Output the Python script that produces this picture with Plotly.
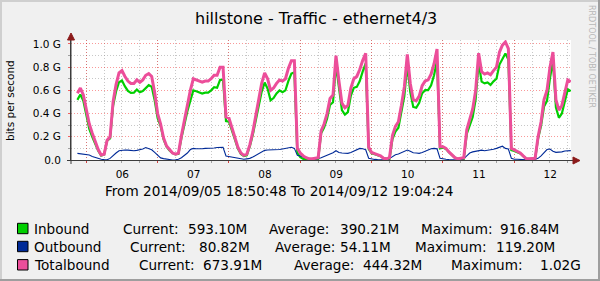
import plotly.graph_objects as go
import pandas as pd

# ---------------- data ----------------
TITLE = "hillstone - Traffic - ethernet4/3"
Y_TITLE = "bits per second"
WATERMARK = "RRDTOOL / TOBI OETIKER"
PERIOD_TEXT = "From 2014/09/05 18:50:48 To 2014/09/12 19:04:24"
RANGE_START = "2014-09-05 18:50:48"
RANGE_END = "2014-09-12 19:04:24"
SAMPLE_START = "2014-09-05 21:00:00"   # hourly samples, values in Gbit/s

totalbound = [
    0.575, 0.62, 0.56,
    0.42, 0.31, 0.23, 0.16, 0.09, 0.043, 0.05, 0.17, 0.20, 0.50, 0.65, 0.75, 0.77, 0.72, 0.68, 0.66, 0.66, 0.69, 0.67, 0.69, 0.73, 0.745, 0.72, 0.58,
    0.40, 0.31, 0.19, 0.12, 0.085, 0.06, 0.05, 0.06, 0.21, 0.35, 0.48, 0.60, 0.70, 0.69, 0.68, 0.67, 0.68, 0.68, 0.70, 0.73, 0.73, 0.80, 0.80, 0.37,
    0.36, 0.28, 0.19, 0.11, 0.06, 0.04, 0.05, 0.13, 0.24, 0.37, 0.51, 0.66, 0.75, 0.70, 0.60, 0.62, 0.66, 0.69, 0.68, 0.70, 0.79, 0.855, 0.855, 0.10,
    0.06, 0.035, 0.02, 0.01, 0.01, 0.012, 0.02, 0.25, 0.31, 0.40, 0.53, 0.56, 0.90, 0.68, 0.49, 0.45, 0.47, 0.62, 0.70, 0.72, 0.78, 0.86, 0.92, 0.11,
    0.065, 0.055, 0.045, 0.035, 0.015, 0.01, 0.02, 0.21, 0.29, 0.33, 0.47, 0.63, 0.91, 0.66, 0.52, 0.51, 0.55, 0.64, 0.68, 0.69, 0.74, 0.83, 0.955, 0.115,
    0.115, 0.10, 0.07, 0.045, 0.02, 0.01, 0.012, 0.02, 0.26, 0.35, 0.44, 0.60, 0.92, 0.76, 0.74, 0.75, 0.735, 0.77, 0.80, 0.93, 0.99, 1.017, 0.96, 0.10,
    0.085, 0.07, 0.06, 0.035, 0.012, 0.01, 0.01, 0.015, 0.20, 0.33, 0.52, 0.60, 0.80, 0.93, 0.52, 0.43, 0.47, 0.59, 0.69, 0.674,
]
outbound = [
    0.057, 0.055, 0.05,
    0.046, 0.043, 0.03, 0.02, 0.01, 0.006, 0.003, 0.002, 0.014, 0.033, 0.06, 0.08, 0.086, 0.086, 0.085, 0.082, 0.08, 0.083, 0.086, 0.095, 0.107, 0.10, 0.088, 0.065,
    0.04, 0.018, 0.012, 0.006, 0.003, 0.0, 0.002, 0.006, 0.02, 0.04, 0.06, 0.09, 0.10, 0.097, 0.095, 0.097, 0.10, 0.10, 0.10, 0.103, 0.108, 0.11, 0.11, 0.035,
    0.03, 0.025, 0.018, 0.012, 0.008, 0.006, 0.01, 0.014, 0.025, 0.04, 0.05, 0.07, 0.083, 0.086, 0.086, 0.086, 0.086, 0.09, 0.095, 0.10, 0.108, 0.11, 0.10, 0.04,
    0.035, 0.025, 0.014, 0.006, 0.006, 0.008, 0.012, 0.02, 0.03, 0.045, 0.055, 0.063, 0.08, 0.065, 0.06, 0.058, 0.057, 0.065, 0.078, 0.09, 0.10, 0.097, 0.088, 0.015,
    0.007, 0.005, 0.003, 0.002, 0.0, 0.0, 0.012, 0.03, 0.045, 0.052, 0.065, 0.08, 0.086, 0.075, 0.063, 0.06, 0.057, 0.065, 0.078, 0.088, 0.097, 0.10, 0.096, 0.015,
    0.008, 0.006, 0.004, 0.002, 0.0, 0.0, 0.004, 0.01, 0.035, 0.06, 0.07, 0.076, 0.08, 0.085, 0.08, 0.082, 0.088, 0.092, 0.10, 0.108, 0.119, 0.10, 0.095, 0.015,
    0.007, 0.006, 0.004, 0.003, 0.002, 0.0, 0.0, 0.006, 0.014, 0.035, 0.06, 0.09, 0.095, 0.075, 0.066, 0.066, 0.07, 0.078, 0.08, 0.081,
]
inbound = [
    0.518, 0.565, 0.51,
    0.374, 0.267, 0.20, 0.14, 0.08, 0.037, 0.047, 0.168, 0.186, 0.467, 0.59, 0.67, 0.684, 0.634, 0.595, 0.578, 0.58, 0.607, 0.584, 0.595, 0.623, 0.645, 0.632, 0.515,
    0.36, 0.292, 0.178, 0.114, 0.082, 0.06, 0.048, 0.054, 0.19, 0.31, 0.42, 0.51, 0.60, 0.593, 0.585, 0.573, 0.58, 0.58, 0.60, 0.627, 0.622, 0.69, 0.69, 0.335,
    0.33, 0.255, 0.172, 0.098, 0.052, 0.034, 0.04, 0.116, 0.215, 0.33, 0.46, 0.59, 0.667, 0.614, 0.514, 0.534, 0.574, 0.60, 0.585, 0.60, 0.682, 0.745, 0.755, 0.06,
    0.025, 0.01, 0.006, 0.004, 0.004, 0.004, 0.008, 0.23, 0.28, 0.355, 0.475, 0.497, 0.82, 0.615, 0.43, 0.392, 0.413, 0.555, 0.622, 0.63, 0.68, 0.763, 0.832, 0.095,
    0.058, 0.05, 0.042, 0.033, 0.015, 0.01, 0.008, 0.18, 0.245, 0.278, 0.405, 0.55, 0.824, 0.585, 0.457, 0.45, 0.493, 0.575, 0.602, 0.602, 0.643, 0.73, 0.859, 0.10,
    0.107, 0.094, 0.066, 0.043, 0.02, 0.01, 0.008, 0.01, 0.225, 0.29, 0.37, 0.524, 0.84, 0.675, 0.66, 0.668, 0.647, 0.678, 0.70, 0.822, 0.871, 0.917, 0.865, 0.085,
    0.078, 0.064, 0.056, 0.032, 0.01, 0.01, 0.01, 0.009, 0.186, 0.295, 0.46, 0.51, 0.705, 0.855, 0.454, 0.364, 0.40, 0.512, 0.61, 0.593,
]

series_names = ["Inbound", "Outbound", "Totalbound"]
series_colors = ["#00CF00", "#002A97", "#EC4E9A"]
current_vals = ["593.10M", "80.82M", "673.91M"]
average_vals = ["390.21M", "54.11M", "444.32M"]
maximum_vals = ["916.84M", "119.20M", "1.02G"]

day_ticks = ["2014-09-06", "2014-09-07", "2014-09-08", "2014-09-09",
             "2014-09-10", "2014-09-11", "2014-09-12"]
day_labels = ["06", "07", "08", "09", "10", "11", "12"]
y_ticks = [0.0, 0.2, 0.4, 0.6, 0.8, 1.0]
y_labels = ["0.0", "0.2 G", "0.4 G", "0.6 G", "0.8 G", "1.0 G"]
y_minor = [0.1, 0.3, 0.5, 0.7, 0.9]

# ---------------- layout geometry (pixels) ----------------
W, H = 600, 281
L, R, T, B = 71, 29, 40, 121
PW, PH = W - L - R, H - T - B
FONT = "DejaVu Sans"
BG = "#F0F0F0"
MGRID = "rgba(240,0,0,0.40)"
GRID = "rgba(143,143,143,0.50)"
AXIS = "#3C3C3C"
ARROW = "#8B1A1A"
LEGEND_SIZE = 13.6


def px(x):
    return (x - L) / PW


def py(y):
    return (T + PH - y) / PH


times = pd.date_range(SAMPLE_START, periods=len(totalbound), freq="h")
minor_times = pd.date_range("2014-09-05 18:00", "2014-09-12 18:00", freq="6h")

fig = go.Figure()
fig.add_trace(go.Scatter(x=times, y=inbound, mode="lines", name=series_names[0],
                         line=dict(color=series_colors[0], width=2.2)))
fig.add_trace(go.Scatter(x=times, y=outbound, mode="lines", name=series_names[1],
                         line=dict(color=series_colors[1], width=1.1)))
fig.add_trace(go.Scatter(x=times, y=totalbound, mode="lines", name=series_names[2],
                         line=dict(color=series_colors[2], width=3)))

fig.update_layout(
    width=W, height=H,
    margin=dict(l=L, r=R, t=T, b=B, pad=0),
    paper_bgcolor=BG, plot_bgcolor="#FFFFFF",
    showlegend=False,
    font=dict(family=FONT, size=10.5, color="#000000"),
    xaxis=dict(
        type="date", range=[RANGE_START, RANGE_END],
        tickmode="array", tickvals=day_ticks, ticktext=day_labels,
        ticklabelshift=36, ticks="outside", ticklen=2, tickcolor="rgba(240,0,0,0.6)",
        showgrid=True, gridcolor=MGRID, griddash="1px,2px", gridwidth=1,
        minor=dict(tickmode="array", tickvals=list(minor_times), showgrid=True,
                   gridcolor=GRID, griddash="1px,2px", gridwidth=1,
                   ticks="outside", ticklen=2, tickcolor="#A0A0A0"),
        showline=True, linecolor=AXIS, linewidth=1,
        zeroline=False, tickfont=dict(size=10.5), ticklabelstandoff=2,
    ),
    yaxis=dict(
        range=[0, 1.034], tickmode="array", tickvals=y_ticks, ticktext=y_labels,
        ticks="outside", ticklen=2, tickcolor="rgba(240,0,0,0.6)",
        showgrid=True, gridcolor=MGRID, griddash="1px,2px", gridwidth=1,
        minor=dict(tickmode="array", tickvals=y_minor, showgrid=True,
                   gridcolor=GRID, griddash="1px,2px", gridwidth=1,
                   ticks="outside", ticklen=2, tickcolor="#A0A0A0"),
        showline=True, linecolor=AXIS, linewidth=1,
        zeroline=False, tickfont=dict(size=10.5), ticklabelstandoff=5,
    ),
)

shapes = []
# image border shading
shapes.append(dict(type="rect", xref="paper", yref="paper", x0=px(0), x1=px(600), y0=py(0), y1=py(2),
                   fillcolor="#CFCFCF", line=dict(width=0), layer="below"))
shapes.append(dict(type="rect", xref="paper", yref="paper", x0=px(0), x1=px(2), y0=py(0), y1=py(281),
                   fillcolor="#CFCFCF", line=dict(width=0), layer="below"))
shapes.append(dict(type="rect", xref="paper", yref="paper", x0=px(598), x1=px(600), y0=py(0), y1=py(281),
                   fillcolor="#9E9E9E", line=dict(width=0), layer="below"))
shapes.append(dict(type="rect", xref="paper", yref="paper", x0=px(0), x1=px(600), y0=py(279), y1=py(281),
                   fillcolor="#9E9E9E", line=dict(width=0), layer="below"))
# axis extensions and arrows
shapes.append(dict(type="line", xref="paper", yref="paper", x0=px(67), x1=px(574), y0=py(160.5), y1=py(160.5),
                   line=dict(color=AXIS, width=1)))
shapes.append(dict(type="line", xref="paper", yref="paper", x0=px(71), x1=px(71), y0=py(164), y1=py(38),
                   line=dict(color=AXIS, width=1)))
shapes.append(dict(type="path", xref="paper", yref="paper",
                   path=f"M {px(67.5)},{py(40)} L {px(71)},{py(33)} L {px(74.5)},{py(40)} Z",
                   fillcolor=ARROW, line=dict(color=ARROW, width=1)))
shapes.append(dict(type="path", xref="paper", yref="paper",
                   path=f"M {px(573)},{py(157)} L {px(580)},{py(160.5)} L {px(573)},{py(164)} Z",
                   fillcolor=ARROW, line=dict(color=ARROW, width=1)))

annotations = []


def text(s, x, y, size, anchor="left", angle=0, color="#000000"):
    annotations.append(dict(text=s, x=px(x), y=py(y), xref="paper", yref="paper",
                            xanchor=anchor, yanchor="middle", showarrow=False,
                            textangle=angle, borderpad=0, borderwidth=0,
                            font=dict(family=FONT, size=size, color=color)))


text(TITLE, 316, 18, 16, anchor="center")
text(Y_TITLE, 9.5, 100.5, 10.5, anchor="center", angle=-90)
text(WATERMARK, 592, 56, 8, anchor="center", angle=90, color="#B8B8B8")
text(PERIOD_TEXT, 105, 191, LEGEND_SIZE)

row_y = [228.5, 246.5, 264.8]
name_x = 34.4
col_x = [
    [123.2, 187.5, 269.0, 339.8, 421.0, 500.0],
    [130.1, 199.0, 274.8, 339.8, 415.2, 495.6],
    [138.9, 202.8, 293.9, 362.8, 450.8, 539.6],
]
for i, name in enumerate(series_names):
    yc = row_y[i]
    shapes.append(dict(type="rect", xref="paper", yref="paper",
                       x0=px(17.5), x1=px(28), y0=py(yc + 5.2), y1=py(yc - 5.2),
                       fillcolor=series_colors[i], line=dict(color="#000000", width=1)))
    text(name, name_x, yc, LEGEND_SIZE)
    pieces = ["Current:", current_vals[i], "Average:", average_vals[i], "Maximum:", maximum_vals[i]]
    for s, x in zip(pieces, col_x[i]):
        text(s, x, yc, LEGEND_SIZE)

fig.update_layout(shapes=shapes, annotations=annotations)
fig.write_html("out.html", config={"displayModeBar": False})
